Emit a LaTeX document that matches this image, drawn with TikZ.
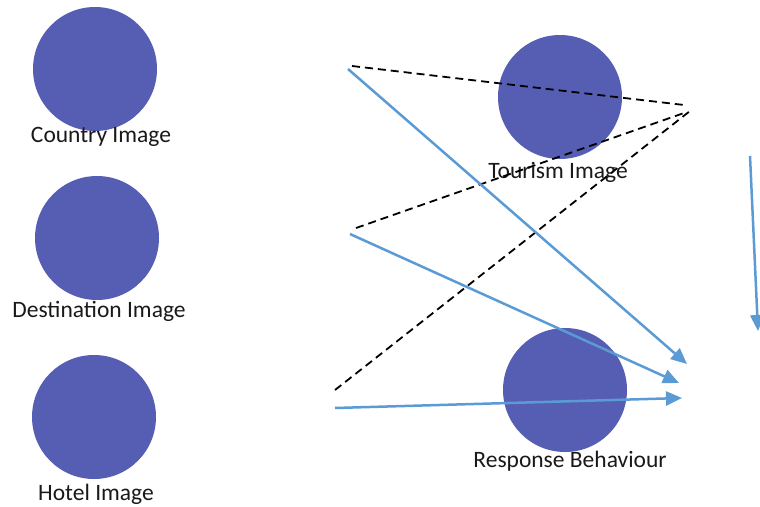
\documentclass[tikz,border=0pt]{standalone}
\usepackage{fontspec}
\setmainfont{Carlito}
\usetikzlibrary{arrows.meta}
\definecolor{imgfill}{RGB}{86, 94, 180}
\definecolor{linkblue}{RGB}{91, 155, 213}

\begin{document}
\begin{tikzpicture}[x=1pt, y=-1pt,
      img/.style={circle, fill=imgfill, minimum size=124pt, inner sep=0pt},
      lbl/.style={anchor=base, inner sep=0pt, font=\fontsize{23.5}{28}\selectfont, text=black!90},
      lnk/.style={-{Triangle[length=16pt, width=14pt]}, line width=2.5pt, color=linkblue},
      dsh/.style={black, line width=1.8pt, dash pattern=on 8pt off 5pt}]
  \useasboundingbox (0,0) rectangle (760,506);
  % circles
  \node[img] (country) at (95,69)  {};
  \node[img] (dest)    at (97,238) {};
  \node[img] (hotel)   at (94,417) {};
  \node[img] (tourism) at (560,97) {};
  \node[img] (resp)    at (565,390) {};
  % labels
  \node[lbl] (country-lbl) at (101,142) {Country Image};
  \node[lbl] (dest-lbl)    at (99,317)  {Destination Image};
  \node[lbl] (hotel-lbl)   at (96,500)  {Hotel Image};
  \node[lbl] (tourism-lbl) at (558,178) {Tourism Image};
  \node[lbl] (resp-lbl)    at (570,467) {Response Behaviour};
  % free line ends
  \coordinate (dA) at (352,66);  \coordinate (dAe) at (684,105);
  \coordinate (dB) at (356,228); \coordinate (dBe) at (684,113);
  \coordinate (dC) at (335,390); \coordinate (dCe) at (690,111);
  \coordinate (lA) at (348,69);  \coordinate (lAe) at (687,364);
  \coordinate (lB) at (350,234); \coordinate (lBe) at (679,383);
  \coordinate (lC) at (335,408); \coordinate (lCe) at (682,398);
  \coordinate (lD) at (750,156); \coordinate (lDe) at (758,331);
  \draw[dsh](dA)--(dAe); \draw[dsh](dB)--(dBe); \draw[dsh](dC)--(dCe);
  \draw[lnk](lA)--(lAe); \draw[lnk](lB)--(lBe); \draw[lnk](lC)--(lCe);
  \draw[lnk](lD)--(lDe);
\end{tikzpicture}
\end{document}
